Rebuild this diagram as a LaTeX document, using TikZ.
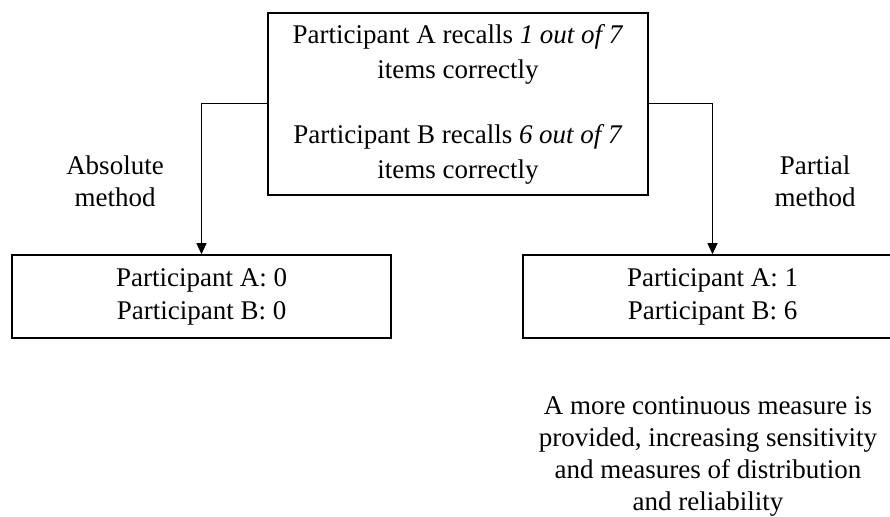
\documentclass[tikz,border=0pt]{standalone}
\usepackage{fontspec}
\setmainfont{Liberation Serif}
\usepackage{tikz}
\usetikzlibrary{arrows.meta}
\tikzset{
    recallbox/.style={rectangle,draw=black,line width=1.6pt,minimum width=380pt,minimum height=182pt,align=center,inner sep=0pt,font=\fontsize{27}{35}\selectfont},
    scorebox/.style={rectangle,draw=black,line width=1.6pt,minimum width=379pt,minimum height=83pt,align=center,inner sep=0pt,font=\fontsize{27}{33}\selectfont},
    methodlabel/.style={align=center,inner sep=0pt,font=\fontsize{27}{32}\selectfont},
    flowarrow/.style={-{Triangle[width=10pt,length=11pt]},line width=1pt}
}
\begin{document}
\begin{tikzpicture}[x=1pt,y=-1pt]
    \useasboundingbox (0,0) rectangle (890,516);
    \clip (0,0) rectangle (890,516);
    \node[recallbox] (recall) at (458,104) {Participant A recalls \textit{1 out of 7}\\ items correctly\\[30pt] Participant B recalls \textit{6 out of 7}\\ items correctly};
    \node[scorebox] (absolute) at (201.5,296.5) {Participant A: 0\\ Participant B: 0};
    \node[scorebox] (partial) at (712.5,296.5) {Participant A: 1\\ Participant B: 6};
    \node[methodlabel] (abslabel) at (115,181) {Absolute\\ method};
    \node[methodlabel] (partlabel) at (815,181) {Partial\\ method};
    \node[methodlabel] (note) at (708,456) {A more continuous measure is\\ provided, increasing sensitivity\\ and measures of distribution\\ and reliability};
    \draw[flowarrow] (recall.west) -| (absolute.north);
    \draw[flowarrow] (recall.east) -| (partial.north);
\end{tikzpicture}
\end{document}
